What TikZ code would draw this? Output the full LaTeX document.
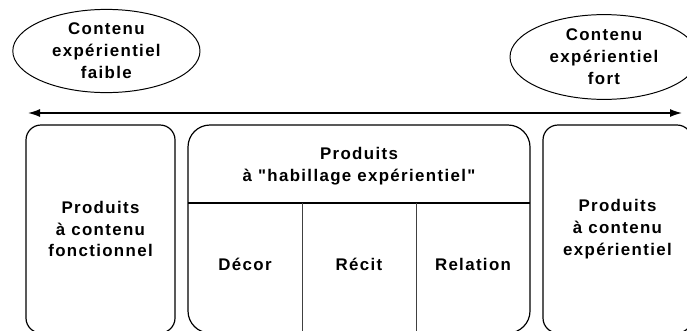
\documentclass[tikz,border=0pt]{standalone}
\usepackage{fontspec}
\setmainfont{Liberation Sans}[LetterSpace=8,Ligatures=TeXOff]
\usepackage{tikz}
\usetikzlibrary{calc,positioning,shapes,arrows.meta}

\begin{document}
\begin{tikzpicture}[
		bloc/.style={draw,line width=0.85pt,outer sep=0pt,inner sep=0pt,minimum width=3.725cm,minimum height=5.2cm,align=center},
		bulle/.style={shape=ellipse,draw,line width=0.7pt,inner sep=0pt,align=center},
		every node/.style={font=\bfseries\fontsize{12}{15.6}\selectfont}]
		\useasboundingbox (0,0) rectangle (17.175,-8.25);
		\node(faible) at (2.66,-1.275) [bulle,minimum width=4.68cm,minimum height=2.08cm] {Contenu\\expérientiel\\faible};
		\node(fort) at (15.1,-1.425) [bulle,minimum width=4.7cm,minimum height=2.12cm] {Contenu\\expérientiel\\fort};
		\coordinate (gauche) at (0.7,-2.825);
		\coordinate (droite) at (17.05,-2.825);
		\draw [{Latex[length=3mm,width=2mm]}-{Latex[length=3mm,width=2mm]},line width=1pt] (gauche) -- (droite);
		\node(fonct) at (2.5125,-5.725) [bloc,rounded corners=0.375cm] {Produits\\à contenu\\fonctionnel};
		\node(habillage) [right=0.325 of fonct,bloc,minimum width=8.55cm,rounded corners=0.55cm] {};
		\node(exper) [right=0.325 of habillage,bloc,rounded corners=0.375cm] {Produits\\à contenu\\expérientiel};
		\node(titre) at ($(habillage.north)!0.2!(habillage.south)$) [align=center] {Produits\\à "habillage expérientiel"};
		\coordinate (sepg) at ($(habillage.north west)!0.375!(habillage.south west)$);
		\coordinate (sepd) at ($(habillage.north east)!0.375!(habillage.south east)$);
		\draw [line width=0.85pt] (sepg) -- (sepd);
		\coordinate (col1) at ($(sepg)!1/3!(sepd)$);
		\coordinate (col2) at ($(sepg)!2/3!(sepd)$);
		\draw [line width=0.5pt,black!75] (col1) -- (col1 |- habillage.south);
		\draw [line width=0.5pt,black!75] (col2) -- (col2 |- habillage.south);
		\foreach \nom/\txt [count=\i] in {decor/Décor,recit/Récit,relation/Relation}
			\node(\nom) at ($(sepg)!{(2*\i-1)/6}!(sepd)+(0,-1.525)$) {\txt};
	\end{tikzpicture}
\end{document}
